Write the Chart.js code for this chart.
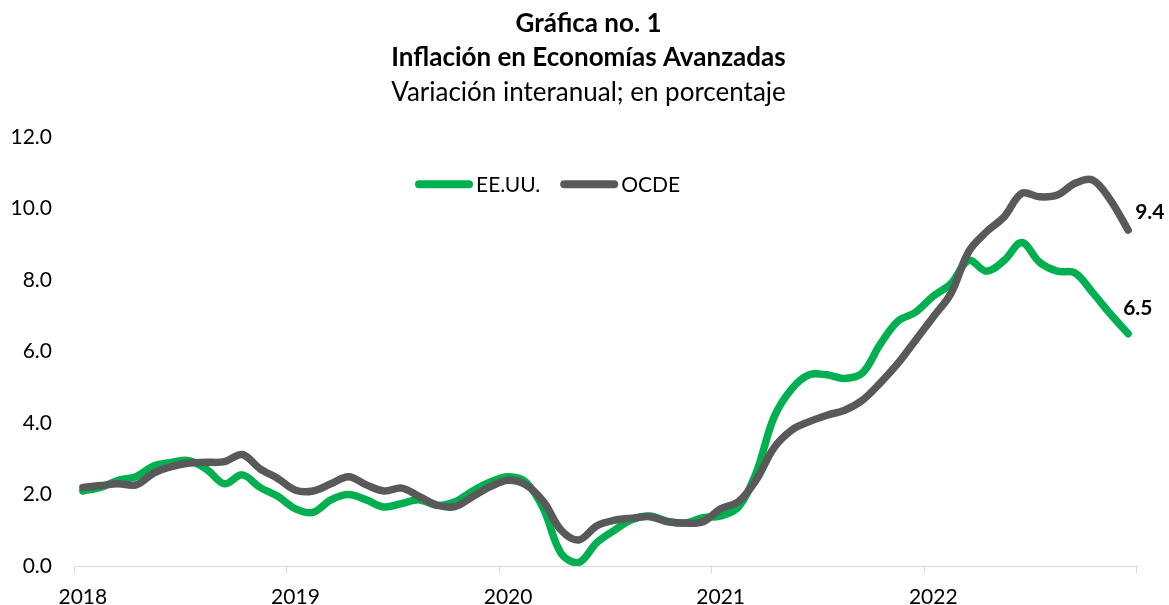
<!DOCTYPE html>
<html>
<head>
<meta charset="utf-8">
<script src="https://cdn.jsdelivr.net/npm/chart.js@4/dist/chart.umd.min.js"></script>
<style>
  body { margin: 0; background: #fff; }
  #wrap { width: 1169px; height: 605px; }
</style>
</head>
<body>
<div id="wrap"><canvas id="inflChart"></canvas></div>
<script>
const years = ['2018', '2019', '2020', '2021', '2022'];

// one label per month, Jan 2018 - Dec 2022
const months = [];
years.forEach(y => { for (let m = 1; m <= 12; m++) months.push(y + '-' + m); });

const eeuu = [
  2.1, 2.2, 2.4, 2.5, 2.8, 2.9, 2.95, 2.7, 2.3, 2.55, 2.2, 1.95,
  1.6, 1.5, 1.85, 2.0, 1.85, 1.65, 1.75, 1.85, 1.7, 1.8, 2.1, 2.35,
  2.5, 2.35, 1.6, 0.35, 0.1, 0.65, 1.0, 1.3, 1.4, 1.25, 1.2, 1.35,
  1.4, 1.65, 2.6, 4.15, 4.95, 5.35, 5.35, 5.25, 5.4, 6.2, 6.85, 7.1,
  7.55, 7.9, 8.55, 8.25, 8.55, 9.05, 8.5, 8.25, 8.2, 7.65, 7.05, 6.5
];

const ocde = [
  2.2, 2.25, 2.3, 2.27, 2.6, 2.78, 2.88, 2.9, 2.92, 3.12, 2.72, 2.45,
  2.12, 2.1, 2.3, 2.5, 2.27, 2.1, 2.18, 1.94, 1.7, 1.66, 1.94, 2.22,
  2.4, 2.27, 1.8, 1.0, 0.73, 1.12, 1.28, 1.34, 1.38, 1.24, 1.2, 1.24,
  1.6, 1.8, 2.4, 3.3, 3.8, 4.04, 4.22, 4.36, 4.64, 5.12, 5.67, 6.32,
  6.97, 7.63, 8.8, 9.35, 9.77, 10.43, 10.33, 10.38, 10.71, 10.8, 10.24, 9.4
];

const seriesNames = ['EE.UU.', 'OCDE'];
const yTicks = [0, 2, 4, 6, 8, 10, 12];

const GREEN = '#00B050';
const GRAY = '#595959';
const FONT = 'Lato';

// legend drawn inside the plot, plus end-of-line value labels and the last axis tick
const extras = {
  id: 'extras',
  afterLayout(chart) {
    // the titles sit a little right of the canvas centre in the original
    chart.boxes.forEach(b => {
      if (b.position === 'top') { b.left += 20; b.right += 20; }
    });
  },
  afterDatasetsDraw(chart) {
    const { ctx, chartArea } = chart;
    ctx.save();

    // legend
    let x = chartArea.left + 341;
    const y = chartArea.top + 47;
    ctx.font = '21px ' + FONT;
    ctx.textBaseline = 'middle';
    ctx.textAlign = 'left';
    chart.data.datasets.forEach(ds => {
      ctx.strokeStyle = ds.borderColor;
      ctx.lineWidth = 8;
      ctx.lineCap = 'round';
      ctx.beginPath();
      ctx.moveTo(x + 4, y);
      ctx.lineTo(x + 54, y);
      ctx.stroke();
      ctx.fillStyle = '#000';
      ctx.fillText(ds.label, x + 61, y + 1);
      x += 61 + ctx.measureText(ds.label).width + 20;
    });

    // end labels
    const offs = [[-5, -25], [7, -18]];
    ctx.font = 'bold 21px ' + FONT;
    chart.data.datasets.forEach((ds, i) => {
      const pts = chart.getDatasetMeta(i).data;
      const p = pts[pts.length - 1];
      const v = ds.data[ds.data.length - 1];
      ctx.fillStyle = '#000';
      ctx.fillText(v.toFixed(1), p.x + offs[i][0], p.y + offs[i][1]);
    });

    // closing tick at the right end of the x axis
    ctx.strokeStyle = '#D9D9D9';
    ctx.lineWidth = 1;
    ctx.beginPath();
    ctx.moveTo(chartArea.right - 0.5, chartArea.bottom);
    ctx.lineTo(chartArea.right - 0.5, chartArea.bottom + 7);
    ctx.stroke();

    ctx.restore();
  }
};

const ctx = document.getElementById('inflChart').getContext('2d');

const inflChart = new Chart(ctx, {
  type: 'line',
  data: {
    labels: months,
    datasets: [{
      label: seriesNames[0],
      data: eeuu,
      borderColor: GREEN,
      backgroundColor: GREEN,
      borderWidth: 7.5,
      borderCapStyle: 'round',
      borderJoinStyle: 'round',
      pointRadius: 0,
      tension: 0.35,
      order: 1
    }, {
      label: seriesNames[1],
      data: ocde,
      borderColor: GRAY,
      backgroundColor: GRAY,
      borderWidth: 7.5,
      borderCapStyle: 'round',
      borderJoinStyle: 'round',
      pointRadius: 0,
      tension: 0.35,
      order: 0
    }]
  },
  options: {
    responsive: true,
    maintainAspectRatio: false,
    animation: false,
    layout: { padding: { left: 0, right: 32, top: 0, bottom: 0 } },
    scales: {
      x: {
        type: 'category',
        offset: true,
        grid: {
          offset: true,
          drawOnChartArea: false,
          tickLength: 7,
          color: c => (c.index % 12 === 0 ? '#D9D9D9' : 'rgba(0,0,0,0)')
        },
        border: { color: '#D9D9D9', width: 1 },
        ticks: {
          autoSkip: false,
          maxRotation: 0,
          minRotation: 0,
          padding: 12,
          color: '#000',
          font: { family: FONT, size: 21 },
          callback: (v, i) => (i % 12 === 0 ? years[i / 12] : '')
        },
        afterFit(scale) { scale.height = 39; }
      },
      y: {
        min: yTicks[0],
        max: yTicks[yTicks.length - 1],
        grid: { display: false, drawTicks: false },
        border: { display: false },
        afterBuildTicks(scale) { scale.ticks = yTicks.map(v => ({ value: v })); },
        ticks: {
          padding: 22,
          color: '#000',
          font: { family: FONT, size: 21 },
          callback: v => v.toFixed(1)
        },
        afterFit(scale) { scale.width = 74; }
      }
    },
    plugins: {
      legend: { display: false },
      tooltip: { enabled: false },
      title: {
        display: true,
        text: ['Gráfica no. 1', 'Inflación en Economías Avanzadas'],
        color: '#000',
        font: { family: FONT, size: 26, weight: 'bold', lineHeight: 1.31 },
        padding: { top: 7, bottom: 0 }
      },
      subtitle: {
        display: true,
        text: 'Variación interanual; en porcentaje',
        color: '#000',
        font: { family: FONT, size: 26, weight: 'normal', lineHeight: 1.31 },
        padding: { top: 0, bottom: 28 }
      }
    }
  },
  plugins: [extras]
});
</script>
</body>
</html>
